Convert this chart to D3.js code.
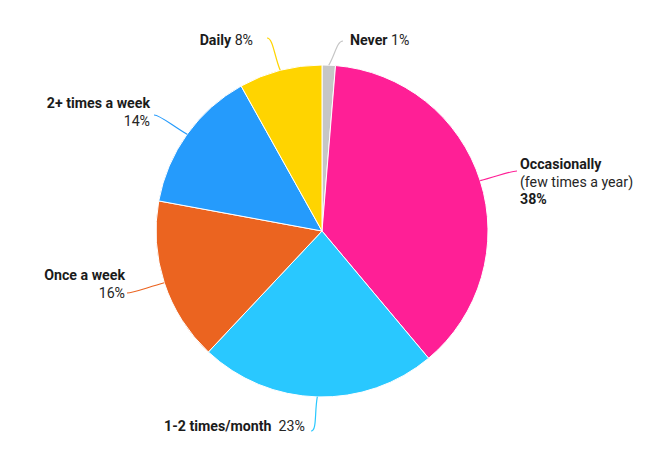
<!DOCTYPE html>
<html>
<head>
<meta charset="utf-8">
<script src="https://cdn.jsdelivr.net/npm/d3@7"></script>
<style>
  body { margin: 0; background: #fff; }
  svg text { font-family: Roboto, sans-serif; font-size: 14.2px; fill: #262626; }
  .b { font-weight: 700; fill: #1b1b1b; }
</style>
</head>
<body>
<svg id="chart" width="646" height="459"></svg>
<script>
// slice data, clockwise from 12 o'clock
const categories = ['Never', 'Occasionally', '1-2 times/month', 'Once a week', '2+ times a week', 'Daily'];
const shares = [1.3, 37.6, 23.1, 15.9, 14.0, 8.1];
const pctLabels = ['1%', '38%', '23%', '16%', '14%', '8%'];
const colors = ['#c6c6c6', '#ff1f96', '#29c8ff', '#eb6420', '#259bfc', '#ffd400'];

// label layout: anchor x, first baseline, alignment, leader end
const labelLayout = [
  { x: 350, y: 45, anchor: 'start', end: [343, 41] },
  { x: 520, y: 169, anchor: 'start', end: [517, 171] },
  { x: 164, y: 431, anchor: 'start', end: [311, 431] },
  { x: 125, y: 280, anchor: 'end', end: [127, 293] },
  { x: 150, y: 108, anchor: 'end', end: [154, 115] },
  { x: 253, y: 45, anchor: 'end', end: [267, 38] }
];

// text lines per label: [text, bold?]
const labelLines = [
  [[['Never', 1], [' 1%', 0]]],
  [[['Occasionally', 1]], [['(few times a year)', 0]], [['38%', 1]]],
  [[['1-2 times/month', 1], ['  23%', 0]]],
  [[['Once a week', 1]], [['16%', 0]]],
  [[['2+ times a week', 1]], [['14%', 0]]],
  [[['Daily', 1], [' 8%', 0]]]
];

const cx = 322, cy = 231, r = 166;
const data = categories.map((c, i) => ({
  name: c, value: shares[i], color: colors[i], pct: pctLabels[i],
  lab: labelLayout[i], lines: labelLines[i]
}));

const svg = d3.select('#chart');
const g = svg.append('g').attr('transform', `translate(${cx},${cy})`);

const pie = d3.pie().value(d => d.value).sort(null);
const arc = d3.arc().innerRadius(0).outerRadius(r);
const arcs = pie(data);

g.selectAll('path.slice')
  .data(arcs)
  .join('path')
  .attr('class', 'slice')
  .attr('d', arc)
  .attr('fill', d => d.data.color)
  .attr('stroke', '#fff')
  .attr('stroke-width', 1);

// leader lines: from outer edge at mid angle, ending with a short horizontal hook
arcs.forEach(d => {
  const a = (d.startAngle + d.endAngle) / 2;
  const sx = cx + r * Math.sin(a), sy = cy - r * Math.cos(a);
  const [ex, ey] = d.data.lab.end;
  const dir = Math.sign(ex - sx) || 1;
  const p = d3.path();
  p.moveTo(sx, sy);
  p.bezierCurveTo(sx + (ex - sx) * 0.45, sy + (ey - sy) * 0.45, ex - dir * 6, ey, ex, ey);
  svg.append('path')
    .attr('d', p.toString())
    .attr('fill', 'none')
    .attr('stroke', d.data.color)
    .attr('stroke-width', 1.2);
});

// labels
data.forEach(d => {
  const L = d.lab;
  d.lines.forEach((line, li) => {
    const t = svg.append('text')
      .attr('x', L.x)
      .attr('y', L.y + li * 17.7)
      .attr('text-anchor', L.anchor)
      .attr('xml:space', 'preserve');
    line.forEach(([txt, bold]) => {
      t.append('tspan').attr('class', bold ? 'b' : null).text(txt);
    });
  });
});
</script>
</body>
</html>
